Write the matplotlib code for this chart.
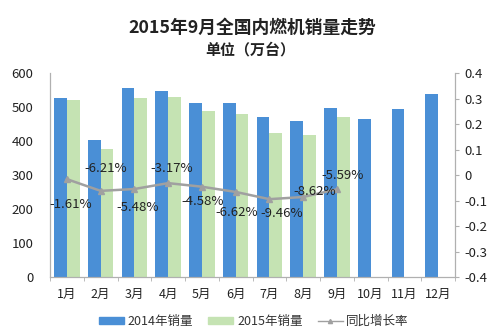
import matplotlib.pyplot as plt
import numpy as np
from matplotlib.lines import Line2D
from matplotlib.patches import Patch

plt.rcParams['font.family'] = ['Noto Sans CJK SC', 'DejaVu Sans']

months = ["1月", "2月", "3月", "4月", "5月", "6月", "7月", "8月", "9月", "10月", "11月", "12月"]
sales_2014 = [527, 402, 557, 546, 512, 513, 471, 459, 496, 464, 494, 538]
sales_2015 = [520, 376, 527, 529, 488, 479, 425, 419, 470]
growth = [-0.0161, -0.0621, -0.0548, -0.0317, -0.0458, -0.0662, -0.0946, -0.0862, -0.0559]
growth_labels = ["-1.61%", "-6.21%", "-5.48%", "-3.17%", "-4.58%", "-6.62%", "-9.46%", "-8.62%", "-5.59%"]
# label offsets in pixels (dx, dy) relative to each point
label_offsets = [(4, -25), (5, 22), (3, -18), (4, 15), (1, -15), (1, -21), (12, -14), (12, 6), (6, 14)]

blue = "#4a8fd6"
green = "#c5e3b3"
gray = "#a0a0a0"
spine = "#b0b0b0"

fig = plt.figure(figsize=(5, 3.35), dpi=100)
ax = fig.add_axes([0.1, 0.173, 0.81, 0.609])
ax2 = ax.twinx()

x = np.arange(len(months))
w = 0.375
ax.bar(x - w / 2, sales_2014, width=w, color=blue, zorder=2)
ax.bar(x[:len(sales_2015)] + w / 2, sales_2015, width=w, color=green, zorder=2)
ax.set_xlim(-0.5, len(months) - 0.5)
ax.set_ylim(0, 600)
ax.set_yticks(range(0, 601, 100))
ax.set_xticks(x)
ax.set_xticklabels(months)
ax.set_xticks(np.arange(-0.5, len(months), 1), minor=True)
ax.tick_params(axis='x', which='major', length=0, pad=8, labelsize=9, colors="#222222")
ax.tick_params(axis='x', which='minor', length=3, color=spine)
ax.tick_params(axis='y', length=0, labelsize=9.5, colors="#222222", pad=12)

gx = x[:len(growth)]
ax2.plot(gx, growth, color=gray, lw=1.8, marker='^', markersize=5, zorder=3)
ax2.set_ylim(-0.4, 0.4)
ax2.set_yticks(np.round(np.arange(-0.4, 0.41, 0.1), 1))
ax2.set_yticklabels(["-0.4", "-0.3", "-0.2", "-0.1", "0", "0.1", "0.2", "0.3", "0.4"])
ax2.tick_params(axis='y', length=3, color=spine, labelsize=9.5, colors="#222222")

for xi, yi, lab, (dx, dy) in zip(gx, growth, growth_labels, label_offsets):
    ax2.annotate(lab, (xi, yi), xytext=(dx, dy), textcoords='offset pixels',
                 ha='center', va='center', fontsize=9.5, color="#222222")

for a in (ax, ax2):
    a.spines['top'].set_visible(False)
    for s in ('left', 'right', 'bottom'):
        a.spines[s].set_color(spine)
        a.spines[s].set_linewidth(0.8)

fig.text(0.505, 0.917, "2015年9月全国内燃机销量走势", ha='center', va='center',
         fontsize=12.8, fontweight='bold', color="#222222")
fig.text(0.5, 0.853, "单位（万台）", ha='center', va='center',
         fontsize=10.8, fontweight='bold', color="#222222")

handles = [Patch(color=blue), Patch(color=green),
           Line2D([], [], color=gray, lw=1, marker='^', markersize=3)]
fig.legend(handles, ["2014年销量", "2015年销量", "同比增长率"], loc='center',
           bbox_to_anchor=(0.508, 0.04), ncol=3, frameon=False, fontsize=9,
           handlelength=2.0, handleheight=0.45, columnspacing=1.2, handletextpad=0.3,
           labelcolor="#333333")

plt.savefig("out.png", dpi=100)
